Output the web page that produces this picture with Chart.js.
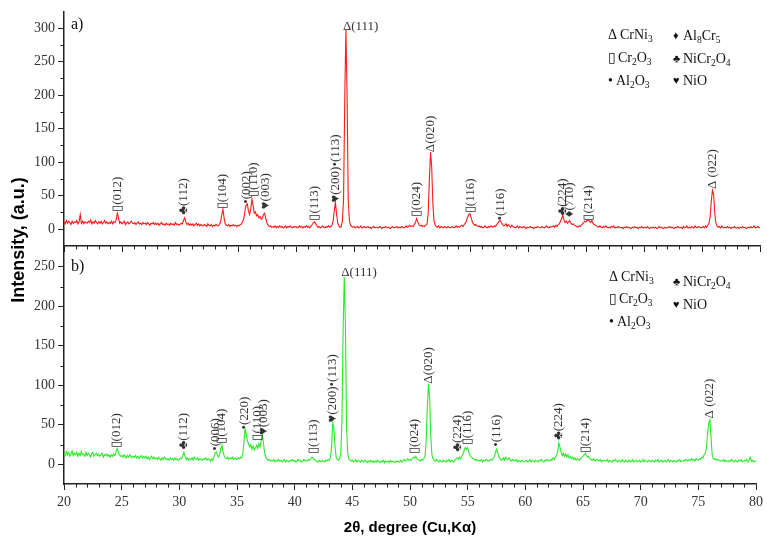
<!DOCTYPE html>
<html>
<head>
<meta charset="utf-8">
<script src="https://cdn.jsdelivr.net/npm/chart.js@4.4.0/dist/chart.umd.min.js"></script>
<style>
  body { margin: 0; background: #fff; }
  #wrap { position: relative; width: 767px; height: 536px; }
  canvas { position: absolute; left: 0; top: 0; }
</style>
</head>
<body>
<div id="wrap">
  <canvas id="xrd-a" width="767" height="536"></canvas>
  <canvas id="xrd-b" width="767" height="536"></canvas>
</div>
<script>
// 2theta grid of the scans
const thetaStart = 20;
const thetaStep = 0.1;

// a) red scan, one line per degree (20.0 ... 80.0)
const intensityA = [
  11,8,13,9,12,10,7,12,9,11,
  10,13,8,11,22,9,12,8,11,10,
  9,12,10,14,8,11,9,13,10,8,
  11,9,12,8,10,13,9,11,8,10,
  9,12,8,11,10,14,24,17,9,11,
  8,10,12,7,9,11,8,10,12,9,
  8,10,7,9,11,8,9,7,10,8,
  9,7,10,8,6,9,8,10,7,9,
  7,9,6,8,10,7,8,6,9,7,
  8,6,9,7,8,6,10,7,8,6,
  7,9,8,13,17,11,7,9,6,8,
  6,8,5,7,9,6,8,5,7,6,
  5,7,6,4,8,6,5,7,4,6,
  5,7,6,5,7,11,22,30,17,8,
  6,5,7,4,6,5,7,5,6,4,
  6,5,7,8,11,16,28,36,38,27,
  22,30,45,36,24,26,20,22,17,19,
  15,17,22,24,16,9,6,4,5,3,
  4,3,5,2,4,3,5,3,4,2,
  3,5,2,4,3,5,3,2,4,3,
  4,2,3,5,3,4,2,4,3,5,
  3,4,2,5,7,10,11,8,5,3,
  4,2,3,5,3,2,4,3,5,3,
  4,6,12,28,40,22,9,5,3,4,
  12,45,190,298,205,45,13,6,4,3,
  4,2,3,4,2,3,5,2,3,4,
  2,3,4,2,3,1,3,4,2,3,
  3,2,4,3,1,3,2,4,3,2,
  3,1,2,4,3,2,3,4,2,3,
  2,4,3,2,3,5,3,4,6,4,
  5,4,7,10,16,11,7,5,6,4,
  5,4,6,8,25,75,115,92,38,12,
  6,4,3,5,2,4,3,2,4,3,
  2,4,3,2,3,4,2,3,5,3,
  4,3,5,6,4,7,9,13,18,22,
  23,17,11,8,6,7,5,4,5,3,
  4,2,3,5,3,2,4,3,5,4,
  3,5,4,7,9,12,13,10,7,5,
  6,8,4,7,5,3,6,4,3,2,
  3,5,2,4,3,2,4,3,1,3,
  2,3,4,2,3,1,3,2,4,3,
  3,2,4,3,2,3,5,3,2,4,
  3,4,5,3,6,4,7,8,12,16,
  21,14,10,12,9,11,13,9,7,8,
  6,5,4,3,5,4,6,8,10,12,
  11,13,14,12,10,13,9,7,6,5,
  4,3,5,3,2,4,3,5,3,2,
  3,2,4,3,5,2,3,2,4,3,
  2,3,1,3,2,4,2,3,2,1,
  3,2,4,2,3,1,3,2,4,2,
  2,3,2,4,2,1,3,2,3,2,
  3,1,2,4,2,3,2,1,3,2,
  2,3,4,2,3,2,1,3,2,4,
  3,2,3,1,4,2,3,5,2,3,
  2,4,3,2,5,3,2,4,3,2,
  3,4,2,5,3,6,9,18,42,58,
  52,24,9,5,3,4,2,5,3,2,
  3,2,4,2,3,1,3,2,4,2,
  2,3,1,3,2,4,2,3,1,2,
  3,2,4,2,3,5,2,3,4,2,
  3
];

// b) green scan
const intensityB = [
  14,11,16,12,15,10,13,17,11,14,
  12,15,10,14,11,16,12,13,10,15,
  11,14,12,9,13,15,10,12,14,11,
  13,10,12,14,9,12,11,13,10,12,
  9,12,10,13,11,15,20,16,12,10,
  11,9,12,10,8,11,9,12,10,8,
  10,9,11,8,10,7,9,11,8,10,
  8,10,7,9,6,8,10,7,9,7,
  8,6,9,7,5,8,6,9,7,6,
  7,5,8,6,7,5,8,6,7,5,
  6,8,7,11,15,10,6,8,5,7,
  6,8,5,9,7,6,8,5,7,6,
  5,7,6,8,5,7,6,4,7,5,
  9,14,16,11,9,13,20,24,15,10,
  8,7,9,6,8,7,9,6,8,7,
  6,8,7,9,8,12,28,45,38,30,
  26,22,25,19,23,18,21,24,20,26,
  22,30,37,26,14,9,7,5,6,4,
  5,4,6,3,5,4,6,4,5,3,
  4,6,3,5,4,3,5,4,6,4,
  5,3,4,6,4,5,3,4,6,4,
  5,4,6,5,7,9,8,6,5,4,
  3,5,4,3,5,4,3,5,4,6,
  5,8,22,52,46,22,9,6,5,7,
  14,55,170,237,175,48,14,7,5,4,
  5,3,4,6,3,5,4,3,5,4,
  3,5,4,2,4,3,5,3,4,2,
  4,3,5,3,2,4,3,5,2,4,
  3,4,2,5,3,4,3,2,4,3,
  4,3,5,3,4,6,4,5,7,5,
  6,5,7,9,8,10,7,6,5,4,
  6,5,7,10,28,72,102,85,35,12,
  7,5,4,6,4,3,5,4,3,5,
  4,3,5,4,6,3,5,4,3,5,
  7,8,6,9,7,10,13,18,21,19,
  21,15,11,9,8,7,6,5,6,4,
  5,4,6,3,5,4,6,5,4,5,
  6,5,7,9,14,19,15,10,7,5,
  6,8,5,9,7,6,8,5,4,6,
  5,4,6,3,5,4,3,5,4,3,
  4,5,3,4,6,3,5,4,3,5,
  4,3,5,4,6,4,3,5,4,6,
  5,4,6,5,8,6,9,11,15,27,
  22,15,11,14,10,13,9,12,8,10,
  7,9,6,8,5,7,6,5,7,9,
  10,12,14,11,9,10,7,6,5,7,
  5,4,6,5,4,6,3,5,4,5,
  4,6,3,5,4,3,5,4,6,4,
  3,5,4,3,6,4,3,5,4,3,
  5,3,4,6,3,4,5,3,4,5,
  3,4,6,3,5,4,3,5,4,3,
  5,4,3,5,4,6,3,4,5,3,
  4,5,3,4,6,3,5,4,3,5,
  4,3,5,4,6,3,4,5,4,6,
  5,4,6,5,7,5,6,4,7,6,
  5,7,6,9,8,12,14,20,38,52,
  56,34,12,7,6,7,5,6,5,4,
  5,4,6,3,5,4,3,5,4,6,
  4,3,5,4,3,5,4,6,3,4,
  5,4,6,3,5,9,4,5,3,4,
  4
];

const xTicks = [20, 25, 30, 35, 40, 45, 50, 55, 60, 65, 70, 75, 80];
const yTicksA = [0, 50, 100, 150, 200, 250, 300];
const yTicksB = [0, 50, 100, 150, 200, 250];

// peak labels: [2theta, intensity where the label starts, text]
const peaksA = [
  [24.6, 26, '\u25AF(012)'],
  [30.3, 22, '\u2663(112)'],
  [33.7, 30, '\u25AF(104)'],
  [35.75, 38, '\u2022(002)'],
  [36.3, 48, '\u25AF(110)'],
  [37.35, 30, '\u2665(003)'],
  [41.6, 13, '\u25AF(113)'],
  [43.4, 40, '\u2665(200)\u2022(113)'],
  [50.4, 18, '\u25AF(024)'],
  [51.6, 115, '\u0394(020)'],
  [55.05, 24, '\u25AF(116)'],
  [57.6, 13, '\u2022(116)'],
  [63.0, 21, '\u2663(224)'],
  [63.6, 18, '\u2666(7\u030410)'],
  [65.2, 13, '\u25AF(214)'],
  [75.9, 60, '\u0394 (022)']
];
const peaksB = [
  [24.6, 20, '\u25AF(012)'],
  [30.4, 19, '\u2663(112)'],
  [33.1, 17, '\u2022(006)'],
  [33.7, 26, '\u25AF(104)'],
  [35.7, 44, '\u2022(220)'],
  [36.8, 30, '\u25AF(110)'],
  [37.3, 37, '\u2665(003)'],
  [41.6, 13, '\u25AF(113)'],
  [43.3, 53, '\u2665(200)\u2022(113)'],
  [50.4, 13, '\u25AF(024)'],
  [51.6, 102, '\u0394(020)'],
  [54.1, 16, '\u2663(224)'],
  [55.0, 24, '\u25AF(116)'],
  [57.5, 22, '\u2022(116)'],
  [62.9, 31, '\u2663(224)'],
  [65.2, 14, '\u25AF(214)'],
  [75.95, 58, '\u0394 (022)']
];
// main reflection, written level
const topPeakA = [44.3, 303, '\u0394(111)'];
const topPeakB = [44.3, 242, '\u0394(111)'];

// phase keys, '_' marks a subscript
const phasesA = [['\u0394', 'CrNi_3'], ['\u25AF', 'Cr_2O_3'], ['\u2022', 'Al_2O_3'],
                 ['\u2666', 'Al_8Cr_5'], ['\u2663', 'NiCr_2O_4'], ['\u2665', 'NiO']];
const phasesB = [['\u0394', 'CrNi_3'], ['\u25AF', 'Cr_2O_3'], ['\u2022', 'Al_2O_3'],
                 ['\u2663', 'NiCr_2O_4'], ['\u2665', 'NiO']];

const axisColor = '#222';
const textColor = '#333';
const serif = '"Liberation Serif", "Times New Roman", serif';
const sans = '"Liberation Sans", Arial, sans-serif';

function toPoints(values) {
  return values.map((v, i) => ({ x: +(thetaStart + i * thetaStep).toFixed(1), y: v }));
}

function drawFormula(ctx, text, x, y, size) {
  let cx = x;
  for (let i = 0; i < text.length; i++) {
    let ch = text[i], sub = false;
    if (ch === '_') { ch = text[++i]; sub = true; }
    ctx.font = (sub ? size * 0.68 : size) + 'px ' + serif;
    ctx.fillText(ch, cx, sub ? y + size * 0.3 : y);
    cx += ctx.measureText(ch).width;
  }
}

const minorTicks = {
  id: 'minorTicks',
  afterDraw(chart) {
    const { ctx, chartArea: a, scales: { x, y } } = chart;
    ctx.save();
    ctx.strokeStyle = axisColor;
    ctx.lineWidth = 1;
    ctx.beginPath();
    for (let v = Math.ceil(x.min); v < x.max; v++) {
      if (v % 5 === 0) continue;
      const px = Math.round(x.getPixelForValue(v)) + 0.5;
      ctx.moveTo(px, a.bottom);
      ctx.lineTo(px, a.bottom + 3.5);
    }
    for (let v = y.min + 50; v < y.max; v += 50) {
      const py = Math.round(y.getPixelForValue(v)) + 0.5;
      ctx.moveTo(a.left, py);
      ctx.lineTo(a.left - 3.5, py);
    }
    ctx.stroke();
    ctx.restore();
  }
};

const peakMarks = {
  id: 'peakMarks',
  afterDatasetsDraw(chart, args, opts) {
    const { ctx, chartArea: a, scales: { x, y } } = chart;
    ctx.save();
    ctx.fillStyle = textColor;
    ctx.textBaseline = 'middle';
    ctx.textAlign = 'left';
    ctx.font = '13px ' + serif;
    opts.peaks.forEach(([t, v, text]) => {
      ctx.save();
      ctx.translate(x.getPixelForValue(t), y.getPixelForValue(v));
      ctx.rotate(-Math.PI / 2);
      ctx.fillText(text, 0, 0);
      ctx.restore();
    });
    const [t0, v0, s0] = opts.topPeak;
    ctx.fillText(s0, x.getPixelForValue(t0) - 3, y.getPixelForValue(v0));

    // panel tag
    ctx.fillStyle = '#111';
    ctx.font = '16px ' + serif;
    ctx.fillText(opts.tag, a.left + 7, a.top + opts.tagDy);

    // phase key
    ctx.fillStyle = '#111';
    opts.phases.forEach(([sym, name], i) => {
      const [dx, dy] = opts.keyPos[i];
      const px = a.left + dx, py = a.top + dy;
      const big = sym === '\u0394' || sym === '\u25AF' || sym === '\u2022';
      ctx.font = (big ? 14 : 11) + 'px ' + serif;
      ctx.fillText(sym, px, py);
      const gap = sym === '\u0394' ? 12 : (sym === '\u2022' ? 8 : 10);
      drawFormula(ctx, name, px + gap, py, 14);
    });

    if (opts.titles) {
      ctx.fillStyle = '#000';
      ctx.font = 'bold 15px ' + sans;
      ctx.textAlign = 'center';
      ctx.textBaseline = 'alphabetic';
      ctx.fillText('2\u03B8, degree (Cu,K\u03B1)', (a.left + a.right) / 2, 532);
      ctx.save();
      ctx.translate(24, 240);
      ctx.rotate(-Math.PI / 2);
      ctx.font = 'bold 18px ' + sans;
      ctx.fillText('Intensity, (a.u.)', 0, 0);
      ctx.restore();
    }
    ctx.restore();
  }
};

function makeConfig(panel) {
  return {
    type: 'line',
    data: {
      datasets: [{
        data: toPoints(panel.values),
        borderColor: panel.color,
        borderWidth: 1.1,
        pointRadius: 0,
        tension: 0
      }]
    },
    options: {
      responsive: false,
      animation: false,
      events: [],
      layout: { padding: panel.padding },
      plugins: {
        legend: { display: false },
        tooltip: { enabled: false },
        peakMarks: panel.marks
      },
      scales: {
        x: {
          type: 'linear',
          min: 20,
          max: 80,
          afterBuildTicks: s => { s.ticks = xTicks.map(v => ({ value: v })); },
          afterFit: s => { s.height = panel.xHeight; },
          border: { color: axisColor, width: 1.5 },
          grid: { drawOnChartArea: false, tickLength: 6, color: axisColor },
          ticks: {
            display: panel.showX,
            color: textColor,
            padding: 4,
            maxRotation: 0,
            autoSkip: false,
            font: { family: serif, size: 14 }
          }
        },
        y: {
          min: -25,
          max: panel.yMax,
          afterBuildTicks: s => { s.ticks = panel.yTicks.map(v => ({ value: v })); },
          afterFit: s => { s.width = 64; },
          border: { color: axisColor, width: 1.5 },
          grid: { drawOnChartArea: false, tickLength: 6, color: axisColor },
          ticks: {
            color: textColor,
            padding: 3,
            font: { family: serif, size: 14 }
          }
        }
      }
    },
    plugins: [minorTicks, peakMarks]
  };
}

new Chart(document.getElementById('xrd-a'), makeConfig({
  values: intensityA,
  color: 'rgb(255,25,25)',
  yMax: 325,
  yTicks: yTicksA,
  showX: false,
  xHeight: 8,
  padding: { top: 10, right: 7, bottom: 282, left: 0 },
  marks: {
    peaks: peaksA, topPeak: topPeakA, tag: 'a)', tagDy: 13,
    phases: phasesA,
    keyPos: [[544, 24], [544, 47], [544, 70], [609, 25], [609, 48], [609, 70]],
    titles: false
  }
}));

new Chart(document.getElementById('xrd-b'), makeConfig({
  values: intensityB,
  color: 'rgb(40,235,40)',
  yMax: 275,
  yTicks: yTicksB,
  showX: true,
  xHeight: 52,
  padding: { top: 247, right: 7, bottom: 0, left: 0 },
  marks: {
    peaks: peaksB, topPeak: topPeakB, tag: 'b)', tagDy: 20,
    phases: phasesB,
    keyPos: [[545, 30], [545, 52], [545, 75], [609, 35], [609, 58]],
    titles: true
  }
}));
</script>
</body>
</html>
